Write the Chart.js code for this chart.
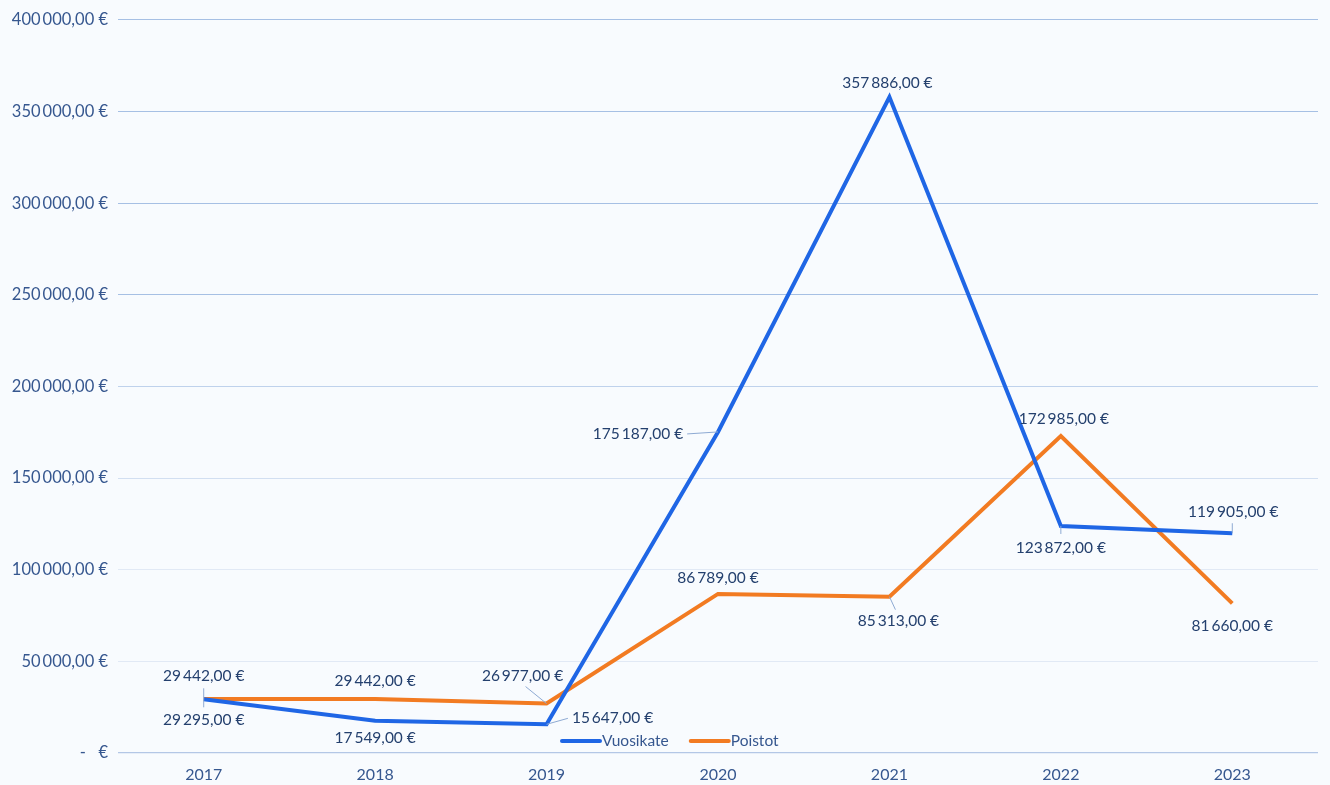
<!DOCTYPE html>
<html>
<head>
<meta charset="utf-8">
<script src="https://cdn.jsdelivr.net/npm/chart.js@4.4.1/dist/chart.umd.min.js"></script>
<style>
  html, body { margin: 0; padding: 0; background: #f8fbfe; }
  #wrap { width: 1330px; height: 785px; position: relative; }
</style>
</head>
<body>
<div id="wrap"><canvas id="c"></canvas></div>
<script>
// ── Data ──────────────────────────────────────────────────────────────────────
const years = ['2017', '2018', '2019', '2020', '2021', '2022', '2023'];
const vuosikate = [29295, 17549, 15647, 175187, 357886, 123872, 119905];
const poistot = [29442, 29442, 26977, 86789, 85313, 172985, 81660];

const BLUE = '#1f66e5';
const ORANGE = '#f27b22';
const TICK_COLOR = '#36578f';
const LABEL_COLOR = '#24406e';
const LEADER = '#8eaad3';
const FONT = 'Lato, "Noto Sans", sans-serif';

// label offsets (px) from each point; lead = leader line, tick = [up, down] px
const labelPos = [
  [ // Vuosikate
    { dx: 0, dy: 21, tick: [11, 8] },
    { dx: 0, dy: 17 },
    { dx: 66, dy: -6, lead: true },
    { dx: -80, dy: 2, lead: true },
    { dx: -2, dy: -14 },
    { dx: 0, dy: 22, tick: [0, 8] },
    { dx: 1, dy: -21, tick: [10, 0] },
  ],
  [ // Poistot
    { dx: 0, dy: -23 },
    { dx: 0, dy: -18 },
    { dx: -24, dy: -28, lead: true },
    { dx: 0, dy: -16 },
    { dx: 9, dy: 24, lead: true },
    { dx: 3, dy: -17 },
    { dx: 0, dy: 23 },
  ],
];

function fmtEur(v) {
  if (v === 0) return '-   €';
  const [i, d] = Number(v).toFixed(2).split('.');
  return i.replace(/\B(?=(\d{3})+(?!\d))/g, '\u2009') + ',' + d + ' €';
}

function gridColor(v) {
  if (v === 0) return '#b3c7e6';
  if (v >= 250000) return '#a6c0e4';
  if (v >= 200000) return '#bfd2ec';
  if (v >= 150000) return '#d2dff1';
  return '#e1e9f5';
}

// ── Plugins ───────────────────────────────────────────────────────────────────

const bgPlugin = {
  id: 'bg',
  beforeDraw(chart) {
    const { ctx, width, height } = chart;
    ctx.save();
    ctx.fillStyle = '#f8fbfe';
    ctx.fillRect(0, 0, width, height);
    ctx.restore();
  },
};

const dataLabels = {
  id: 'dataLabels',
  afterDatasetsDraw(chart) {
    const { ctx } = chart;
    ctx.save();
    ctx.font = '15.5px ' + FONT;
    ctx.textAlign = 'center';
    ctx.textBaseline = 'middle';
    chart.data.datasets.forEach((ds, di) => {
      const meta = chart.getDatasetMeta(di);
      meta.data.forEach((pt, i) => {
        const p = labelPos[di][i];
        const txt = fmtEur(ds.data[i]);
        const lx = pt.x + p.dx, ly = pt.y + p.dy;
        const w = ctx.measureText(txt).width;
        ctx.strokeStyle = LEADER;
        ctx.lineWidth = 1;
        if (p.tick) {
          ctx.beginPath();
          ctx.moveTo(pt.x, pt.y - p.tick[0]);
          ctx.lineTo(pt.x, pt.y + p.tick[1]);
          ctx.stroke();
        } else if (p.lead) {
          let ex, ey;
          if (Math.abs(p.dx) > w / 2) {
            ex = lx - Math.sign(p.dx) * (w / 2 + 4);
            ey = ly;
          } else {
            ex = lx - Math.sign(p.dx) * 3;
            ey = ly - Math.sign(p.dy) * 11;
          }
          ctx.beginPath();
          ctx.moveTo(pt.x, pt.y);
          ctx.lineTo(ex, ey);
          ctx.stroke();
        }
        ctx.fillStyle = LABEL_COLOR;
        ctx.fillText(txt, lx, ly);
      });
    });
    ctx.restore();
  },
};

const innerLegend = {
  id: 'innerLegend',
  afterDraw(chart) {
    const { ctx, chartArea } = chart;
    ctx.save();
    ctx.font = '15.5px ' + FONT;
    ctx.textBaseline = 'middle';
    ctx.textAlign = 'left';
    let x = chartArea.left + 444;
    const y = chartArea.bottom - 12;
    chart.data.datasets.forEach(ds => {
      ctx.strokeStyle = ds.borderColor;
      ctx.lineWidth = 4;
      ctx.lineCap = 'round';
      ctx.beginPath();
      ctx.moveTo(x, y);
      ctx.lineTo(x + 38, y);
      ctx.stroke();
      ctx.fillStyle = TICK_COLOR;
      ctx.fillText(ds.label, x + 40, y);
      x += 40 + ctx.measureText(ds.label).width + 22;
    });
    ctx.restore();
  },
};

// ── Chart ─────────────────────────────────────────────────────────────────────

new Chart(document.getElementById('c'), {
  type: 'line',
  data: {
    labels: years,
    datasets: [
      { label: 'Vuosikate', data: vuosikate, borderColor: BLUE, backgroundColor: BLUE },
      { label: 'Poistot', data: poistot, borderColor: ORANGE, backgroundColor: ORANGE },
    ],
  },
  options: {
    responsive: true,
    maintainAspectRatio: false,
    animation: false,
    layout: { padding: { top: 16, right: 12, left: 0, bottom: 0 } },
    elements: {
      line: { borderWidth: 4, tension: 0, borderCapStyle: 'butt', borderJoinStyle: 'miter' },
      point: { radius: 0, hoverRadius: 0 },
    },
    plugins: {
      legend: { display: false },
      tooltip: { enabled: false },
    },
    scales: {
      x: {
        offset: true,
        grid: { display: false, drawTicks: false },
        border: { display: false },
        ticks: { color: TICK_COLOR, font: { size: 16, family: FONT }, padding: 12 },
        afterFit: s => { s.height = 32; },
      },
      y: {
        min: 0,
        max: 400000,
        ticks: {
          stepSize: 50000,
          color: TICK_COLOR,
          font: { size: 16.5, family: FONT },
          padding: 10,
          callback: v => fmtEur(v),
        },
        grid: {
          drawTicks: false,
          lineWidth: v => (v.tick && v.tick.value === 0 ? 1.2 : 1),
          color: c => gridColor(c.tick ? c.tick.value : 0),
        },
        border: { display: false },
        afterFit: s => { s.width = 118; },
      },
    },
  },
  plugins: [bgPlugin, dataLabels, innerLegend],
});
</script>
</body>
</html>
